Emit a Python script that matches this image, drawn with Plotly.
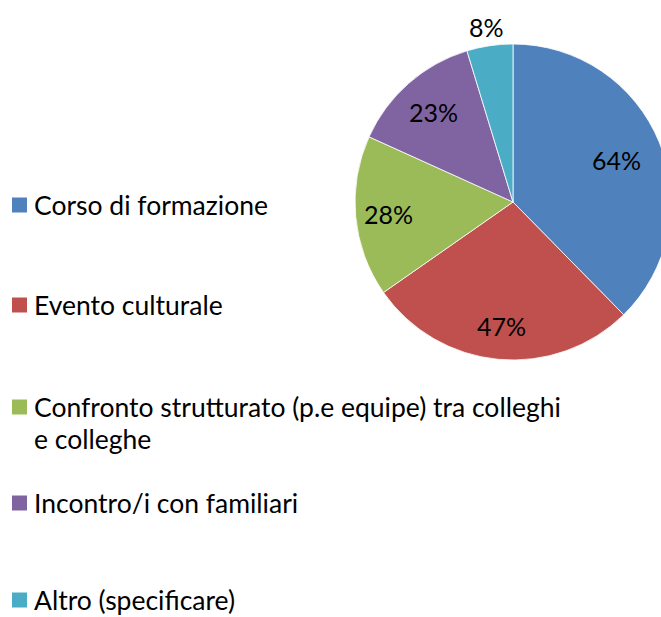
import math
import plotly.graph_objects as go

# Data
categories = [
    "Corso di formazione",
    "Evento culturale",
    "Confronto strutturato (p.e equipe) tra colleghi e colleghe",
    "Incontro/i con familiari",
    "Altro (specificare)",
]
values = [64, 47, 28, 23, 8]
# legend text, wrapped as it is displayed
legend_lines = [
    ["Corso di formazione"],
    ["Evento culturale"],
    ["Confronto strutturato (p.e equipe) tra colleghi", "e colleghe"],
    ["Incontro/i con familiari"],
    ["Altro (specificare)"],
]
colors = ["#4F81BD", "#C0504D", "#9BBB59", "#8064A2", "#4BACC6"]

# distance of each value label from the pie centre, as a fraction of the radius
label_radius = [0.71, 0.79, 0.79, 0.76, 1.12]

W, H = 680, 617
FONT = "Lato"


def px_x(x):
    return x / W


def px_y(y):
    return 1 - y / H


# pie placement in pixels (center, radius)
cx, cy, r = 513, 202, 158

fig = go.Figure(
    go.Pie(
        labels=categories,
        values=values,
        sort=False,
        direction="clockwise",
        rotation=0,
        marker=dict(colors=colors, line=dict(color="white", width=0.8)),
        textinfo="none",
        showlegend=False,
        hoverinfo="label+value",
        domain=dict(x=[px_x(cx - r), px_x(cx + r)], y=[px_y(cy + r), px_y(cy - r)]),
    )
)

annotations = []

# value labels placed at the middle angle of each slice
total = sum(values)
start = 0.0
for v, f in zip(values, label_radius):
    mid = (start + v / 2) / total * 2 * math.pi
    start += v
    lx = cx + f * r * math.sin(mid)
    ly = cy - f * r * math.cos(mid)
    annotations.append(
        dict(
            text=f"{v}%",
            xref="paper",
            yref="paper",
            x=px_x(lx),
            y=px_y(ly),
            xanchor="center",
            yanchor="middle",
            showarrow=False,
            font=dict(family=FONT, size=25, color="black"),
        )
    )

# legend drawn as square swatches with labels
item_y = [205, 305, 407, 503, 600]
line_gap = 32
shapes = []
for color, lines, y in zip(colors, legend_lines, item_y):
    shapes.append(
        dict(
            type="rect",
            xref="paper",
            yref="paper",
            x0=px_x(12),
            x1=px_x(27),
            y0=px_y(y + 7.5),
            y1=px_y(y - 7.5),
            fillcolor=color,
            line=dict(width=0),
        )
    )
    for i, line in enumerate(lines):
        annotations.append(
            dict(
                text=line,
                xref="paper",
                yref="paper",
                x=px_x(33),
                y=px_y(y + i * line_gap),
                xanchor="left",
                yanchor="middle",
                showarrow=False,
                borderpad=0,
                font=dict(family=FONT, size=26.5, color="black"),
            )
        )

fig.update_layout(
    width=W,
    height=H,
    margin=dict(l=0, r=0, t=0, b=0),
    paper_bgcolor="white",
    plot_bgcolor="white",
    shapes=shapes,
    annotations=annotations,
)

fig.write_html(
    "out.html",
    post_script="document.documentElement.style.overflow='hidden';document.body.style.overflow='hidden';",
)
